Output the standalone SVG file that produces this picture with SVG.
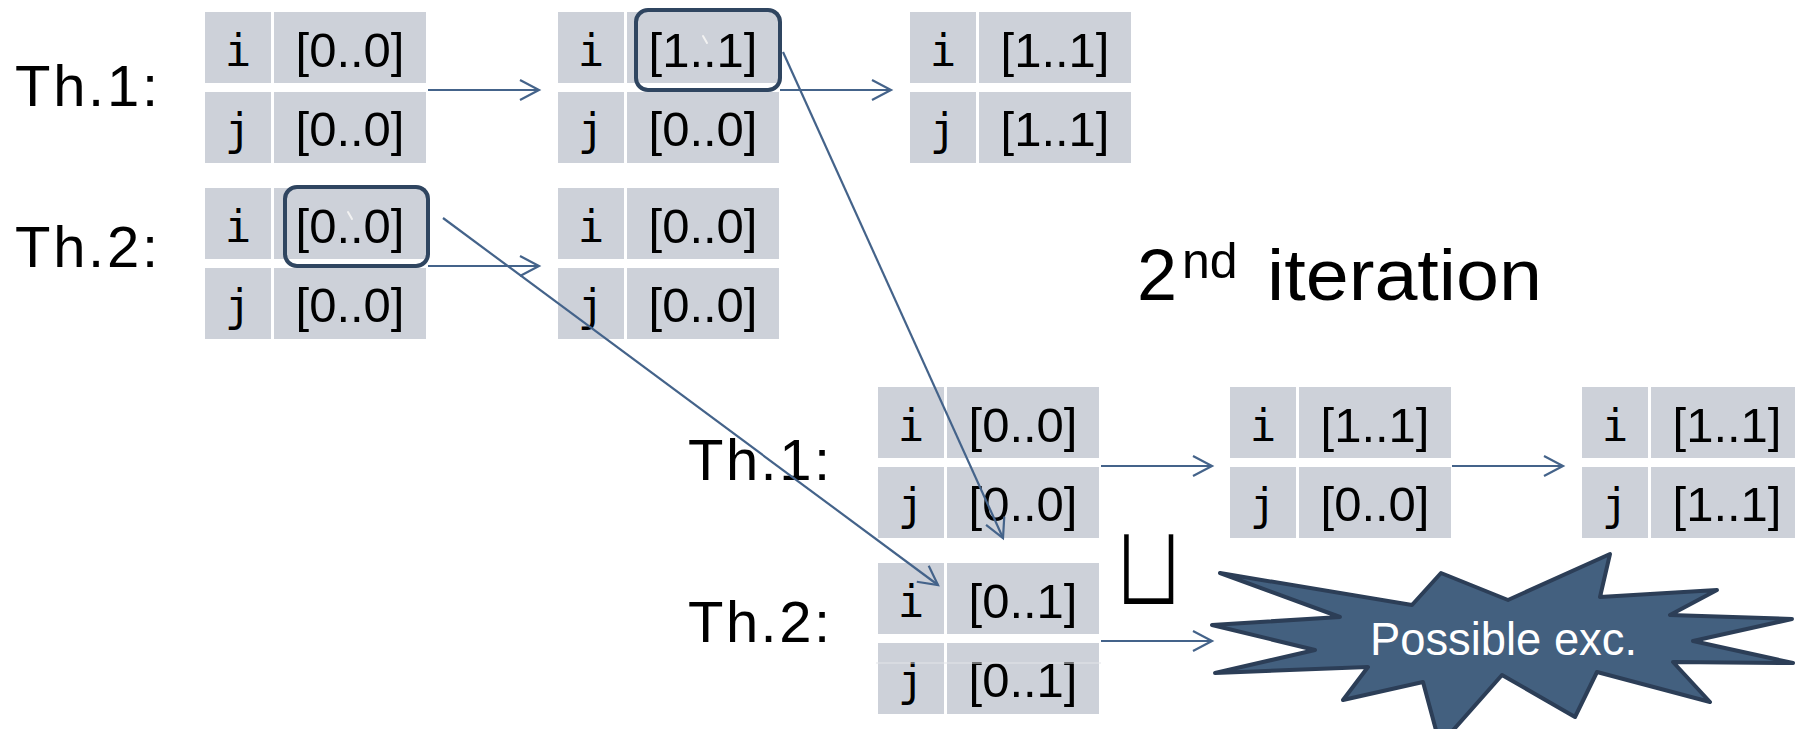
<svg xmlns="http://www.w3.org/2000/svg" xmlns:xlink="http://www.w3.org/1999/xlink" width="1795" height="729" viewBox="0 0 1795 729">
  <style>
    .cell { fill: #cdd1d9; }
    .var { font-family: "DejaVu Sans Mono", "Liberation Mono", monospace; font-size: 44px; fill: #000; text-anchor: middle; }
    .val { font-family: "Liberation Sans", Arial, sans-serif; font-size: 49px; fill: #000; text-anchor: middle; }
    .lbl { font-family: "Liberation Sans", Arial, sans-serif; font-size: 58px; fill: #000; }
    .conn { stroke: #44638a; stroke-width: 2.2; fill: none; marker-end: url(#ah); }
    .hl { fill: none; stroke: #2f4560; stroke-width: 4; }
    .tick { stroke: #f2f2f2; stroke-width: 2; stroke-linecap: round; }
  </style>
  <defs>
    <marker id="ah" markerUnits="userSpaceOnUse" markerWidth="26" markerHeight="26" viewBox="-23 -13 26 26" refX="0" refY="0" orient="auto">
      <path d="M-19,-10 L0,0 L-19,10" fill="none" stroke="#44638a" stroke-width="2.2"/>
    </marker>
    <!-- two-row variable table background: name column + value column -->
    <g id="cells">
      <rect class="cell" x="0" y="0" width="66" height="71"/>
      <rect class="cell" x="69" y="0" width="152" height="71"/>
      <rect class="cell" x="0" y="80" width="66" height="71"/>
      <rect class="cell" x="69" y="80" width="152" height="71"/>
    </g>
  </defs>

  <rect width="1795" height="729" fill="#ffffff"/>

  <!-- thread labels -->
  <g id="labels">
    <text class="lbl" x="15" y="106" textLength="143" lengthAdjust="spacing">Th.1:</text>
    <text class="lbl" x="15" y="267" textLength="143" lengthAdjust="spacing">Th.2:</text>
    <text class="lbl" x="688" y="480" textLength="142" lengthAdjust="spacing">Th.1:</text>
    <text class="lbl" x="688" y="642" textLength="142" lengthAdjust="spacing">Th.2:</text>
  </g>

  <!-- first iteration -->
  <g id="t1-th1-a" transform="translate(205,12)">
    <use xlink:href="#cells"/>
    <text class="var" x="33" y="54">i</text><text class="val" x="145" y="55">[0..0]</text>
    <text class="var" x="33" y="133">j</text><text class="val" x="145" y="134">[0..0]</text>
  </g>
  <g id="t1-th1-b" transform="translate(558,12)">
    <use xlink:href="#cells"/>
    <text class="var" x="33" y="54">i</text><text class="val" x="145" y="55">[1..1]</text>
    <text class="var" x="33" y="133">j</text><text class="val" x="145" y="134">[0..0]</text>
  </g>
  <g id="t1-th1-c" transform="translate(910,12)">
    <use xlink:href="#cells"/>
    <text class="var" x="33" y="54">i</text><text class="val" x="145" y="55">[1..1]</text>
    <text class="var" x="33" y="133">j</text><text class="val" x="145" y="134">[1..1]</text>
  </g>
  <g id="t1-th2-a" transform="translate(205,188)">
    <use xlink:href="#cells"/>
    <text class="var" x="33" y="54">i</text><text class="val" x="145" y="55">[0..0]</text>
    <text class="var" x="33" y="133">j</text><text class="val" x="145" y="134">[0..0]</text>
  </g>
  <g id="t1-th2-b" transform="translate(558,188)">
    <use xlink:href="#cells"/>
    <text class="var" x="33" y="54">i</text><text class="val" x="145" y="55">[0..0]</text>
    <text class="var" x="33" y="133">j</text><text class="val" x="145" y="134">[0..0]</text>
  </g>

  <!-- highlighted read values -->
  <g id="highlights">
    <rect class="hl" x="285" y="187" width="143" height="79" rx="12"/>
    <line class="tick" x1="348" y1="212" x2="352" y2="219"/>
    <rect class="hl" x="636" y="10" width="144" height="80" rx="12"/>
    <line class="tick" x1="703" y1="36" x2="707" y2="43"/>
  </g>

  <!-- second iteration -->
  <text id="iter-title" font-family="'Liberation Sans', Arial, sans-serif" fill="#000"><tspan x="1137" y="300" font-size="72">2</tspan><tspan x="1182" y="278" font-size="50">nd</tspan><tspan x="1267" y="300" font-size="72" textLength="275" lengthAdjust="spacingAndGlyphs">iteration</tspan></text>

  <g id="t2-th1-a" transform="translate(878,387)">
    <use xlink:href="#cells"/>
    <text class="var" x="33" y="54">i</text><text class="val" x="145" y="55">[0..0]</text>
    <text class="var" x="33" y="133">j</text><text class="val" x="145" y="134">[0..0]</text>
  </g>
  <g id="t2-th1-b" transform="translate(1230,387)">
    <use xlink:href="#cells"/>
    <text class="var" x="33" y="54">i</text><text class="val" x="145" y="55">[1..1]</text>
    <text class="var" x="33" y="133">j</text><text class="val" x="145" y="134">[0..0]</text>
  </g>
  <g id="t2-th1-c" transform="translate(1582,387)">
    <use xlink:href="#cells"/>
    <text class="var" x="33" y="54">i</text><text class="val" x="145" y="55">[1..1]</text>
    <text class="var" x="33" y="133">j</text><text class="val" x="145" y="134">[1..1]</text>
  </g>
  <g id="t2-th2-a" transform="translate(878,563)">
    <use xlink:href="#cells"/>
    <text class="var" x="33" y="54">i</text><text class="val" x="145" y="55">[0..1]</text>
    <text class="var" x="33" y="133">j</text><text class="val" x="145" y="134">[0..1]</text>
  </g>
  <line x1="876" y1="663" x2="1101" y2="663" stroke="#e3e5e9" stroke-width="1"/>

  <!-- join symbol (white outline thins the glyph strokes) -->
  <text id="join" transform="translate(1149,606) scale(1,1.28)" x="0" y="0" font-family="'DejaVu Sans', sans-serif" font-size="92" text-anchor="middle" fill="#000" stroke="#ffffff" stroke-width="3">⊔</text>

  <!-- exception burst -->
  <g id="exception">
    <polygon points="1220,573 1412,605 1441,573 1508,600 1610,554 1600,597 1717,590 1670,615 1792,619 1693,641 1793,663 1673,662 1710,702 1597,672 1575,717 1502,675 1440,745 1423,682 1343,700 1368,667 1215,673 1315,650 1212,625 1340,617" fill="#43607f" stroke="#2c3e57" stroke-width="4" stroke-linejoin="round"/>
    <text x="1370" y="655" font-family="'Liberation Sans', Arial, sans-serif" font-size="46" fill="#ffffff" textLength="267" lengthAdjust="spacingAndGlyphs">Possible exc.</text>
  </g>

  <!-- transitions -->
  <g id="connectors">
    <line class="conn" x1="428" y1="90" x2="539" y2="90"/>
    <line class="conn" x1="428" y1="266" x2="539" y2="266"/>
    <line class="conn" x1="780" y1="90" x2="891" y2="90"/>
    <line class="conn" x1="783" y1="52" x2="1003" y2="538"/>
    <line class="conn" x1="443" y1="218" x2="938" y2="585"/>
    <line class="conn" x1="1101" y1="466" x2="1212" y2="466"/>
    <line class="conn" x1="1101" y1="641" x2="1212" y2="641"/>
    <line class="conn" x1="1452" y1="466" x2="1563" y2="466"/>
  </g>
</svg>
